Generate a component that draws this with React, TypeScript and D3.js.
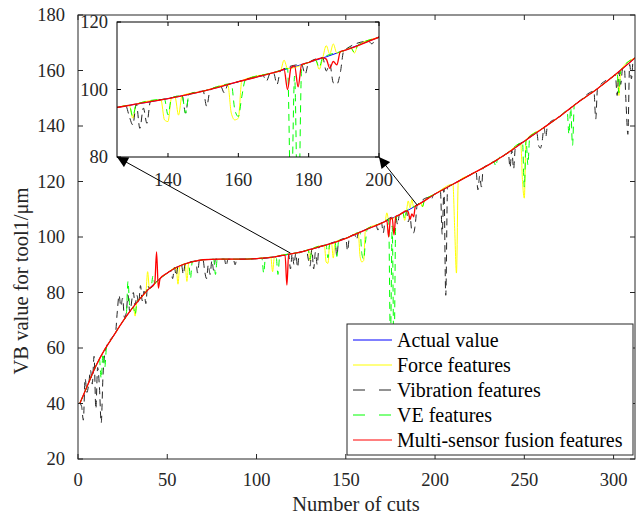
import React from "react";
import * as d3 from "d3";

type Pt = [number, number];

const width = 636;
const height = 517;
const font = "'Liberation Serif', 'Times New Roman', serif";

// measured tool wear (cut number, VB in um)
const actualCuts = [1, 5, 10, 15, 20, 25, 30, 35, 40, 45, 50, 55, 60, 65, 70, 80, 90, 100, 110, 120, 125, 130, 140, 150, 160, 170, 180, 190, 200, 210, 220, 230, 240, 250, 260, 270, 280, 290, 300, 312];
const actualVB = [40, 46, 53.5, 59.5, 64.5, 69.5, 74, 78, 81.5, 84.5, 87, 89, 90.3, 91.2, 91.8, 92, 92, 92.2, 92.8, 94, 94.6, 95.5, 97.3, 99.5, 102.3, 105, 108, 111.5, 115.5, 119, 122.5, 126, 130, 134.5, 139, 143.5, 148.5, 153, 158, 164.5];

// predictions where they leave the measured curve
const forceDev: Pt[][] = [
  [[31, 74.8], [32, 71.5], [33, 76.4]],
  [[38, 80.1], [39, 87.5], [40, 81.5]],
  [[55, 89], [56, 83], [57, 89.5]],
  [[60, 90.3], [61, 84], [62, 90.6]],
  [[108, 92.7], [109, 87.5], [110, 92.8]],
  [[129, 95.3], [130, 91.5], [131, 95.7]],
  [[138, 96.9], [139, 91], [140, 90.5], [141, 97.5]],
  [[142, 97.7], [143, 92.4], [144, 98.2]],
  [[157, 101.4], [158, 93], [159, 91], [160, 91.5], [161, 102.6]],
  [[172, 105.6], [173, 108.7], [174, 106.2]],
  [[182, 108.7], [183, 106], [184, 109.4], [185, 113], [186, 110.5], [187, 113.5], [188, 110.8]],
  [[192, 112.3], [193, 110.8], [194, 113.1]],
  [[210, 119], [211, 103], [212, 87], [213, 120]],
  [[248, 133.6], [249, 120], [250, 114], [251, 135]],
  [[302, 159], [303, 151], [304, 160]],
];

const vibrationDev: Pt[][] = [
  [[1, 40], [2, 39], [3, 34], [4, 49], [5, 44], [6, 47], [7, 52], [8, 47], [9, 57], [10, 38], [11, 53], [12, 46], [13, 33], [14, 50], [15, 58], [16, 60.5]],
  [[21, 65.5], [22, 73], [23, 79], [24, 75], [25, 78], [26, 71], [27, 72.5], [28, 79], [29, 73], [31, 80], [32, 75.5], [33, 79], [34, 76], [35, 82.5], [36, 77], [37, 80.5], [38, 76], [39, 82.5], [40, 81.5]],
  [[52, 87.8], [53, 85], [54, 89], [55, 86], [56, 89.3], [58, 89.8], [59, 86.5], [60, 90.3], [66, 91.3], [67, 87], [68, 91.5], [70, 91.8], [71, 87.5], [72, 85], [73, 90], [74, 86.5], [75, 91.5], [76, 88], [77, 92], [78, 92]],
  [[82, 92], [83, 89.5], [84, 92]],
  [[87, 92], [88, 90], [89, 92]],
  [[118, 93.8], [119, 88.5], [120, 94], [121, 90], [122, 94.2], [123, 89], [124, 94.5]],
  [[128, 95.1], [129, 92], [130, 89.5], [131, 95.7], [132, 88.5], [133, 94.5], [134, 90], [135, 96.4]],
  [[144, 98.2], [145, 93], [146, 98.6]],
  [[150, 99.5], [151, 95], [152, 99.9]],
  [[155, 100.9], [156, 99], [157, 101.4]],
  [[167, 104.1], [168, 102.5], [169, 104.7]],
  [[170, 105], [171, 101.5], [172, 105.6]],
  [[178, 107.4], [179, 104.5], [180, 108]],
  [[184, 109.4], [185, 105.5], [186, 107.5], [187, 102], [188, 101.5], [189, 105], [190, 111.5]],
  [[197, 114.3], [198, 113.5], [199, 115.1]],
  [[203, 116.5], [204, 101], [205, 117.3], [206, 79], [207, 117.9]],
  [[223, 123.5], [224, 117], [225, 122], [226, 118], [227, 125]],
  [[241, 130.5], [242, 125], [243, 131.3], [244, 124.5], [245, 132.3]],
  [[257, 137.6], [258, 133], [259, 132], [260, 134.5], [261, 139.5], [262, 136], [263, 140.3]],
  [[289, 152.5], [290, 142.5], [291, 153.5]],
  [[301, 158.5], [302, 151], [303, 159.5], [304, 155], [305, 160.5]],
  [[306, 161], [307, 148], [308, 137], [309, 162.2], [310, 157], [311, 163.9]],
];

const veDev: Pt[][] = [
  [[12, 56], [13, 49], [14, 58], [15, 53], [16, 60.5], [17, 61.5]],
  [[27, 71.5], [28, 84], [29, 75], [30, 74]],
  [[31, 74.8], [32, 72], [33, 76.4]],
  [[41, 82.1], [42, 86], [43, 83.3]],
  [[62, 90.6], [63, 85], [64, 91]],
  [[76, 92], [77, 86.5], [78, 92]],
  [[103, 92.4], [104, 87], [105, 92.5]],
  [[111, 92.9], [112, 86.5], [113, 93.2]],
  [[129, 95.3], [130, 92], [131, 95.7]],
  [[139, 97.1], [140, 92.5], [141, 97.5]],
  [[144, 98.2], [145, 93], [146, 98.6]],
  [[158, 101.7], [159, 94], [160, 92], [161, 98], [162, 102.8]],
  [[174, 106.2], [175, 62], [176, 104], [177, 55], [178, 106], [179, 107.7]],
  [[182, 108.7], [183, 106.5], [184, 109.4]],
  [[192, 112.3], [193, 111], [194, 113.1]],
  [[233, 127.2], [234, 125.5], [235, 128]],
  [[249, 134], [250, 118], [251, 135], [252, 126], [253, 135.8]],
  [[274, 145.5], [275, 137], [276, 146.5], [277, 133], [278, 147.5]],
  [[302, 159], [303, 152], [304, 160]],
];

const fusionDev: Pt[][] = [
  [[43, 83.3], [44, 94.6], [45, 81.6], [46, 85]],
  [[116, 93.5], [117, 82.7], [118, 93.8]],
  [[172, 105.6], [173, 106], [174, 100], [175, 106.5], [176, 107], [177, 100.8], [178, 107.4]],
  [[184, 109.4], [185, 109], [186, 106.3], [187, 108.3], [188, 107.3], [189, 111.2]],
];

const legendLabels = ["Actual value", "Force features", "Vibration features", "VE features", "Multi-sensor fusion features"];
const xTicks = [0, 50, 100, 150, 200, 250, 300];
const yTicks = [20, 40, 60, 80, 100, 120, 140, 160, 180];
const insetXTicks = [140, 160, 180, 200];
const insetYTicks = [80, 100, 120];
// zoom arrows: main-curve point -> inset corner
const arrowFrom: Pt[] = [[119, 94.2], [190, 111.5]];

const actualPts: Pt[] = actualCuts.map((c, i) => [c, actualVB[i]]);

function withDev(dev: Pt[][]): Pt[] {
  const pts = actualPts.filter(([c]) => !dev.some((seg) => c >= seg[0][0] && c <= seg[seg.length - 1][0]));
  dev.forEach((seg) => pts.push(...seg));
  return pts.sort((a, b) => a[0] - b[0]);
}

const series = [
  { pts: actualPts, color: "#0000ff", dash: "", w: 1 },
  { pts: withDev(forceDev), color: "#ffff00", dash: "", w: 1 },
  { pts: withDev(vibrationDev), color: "#262626", dash: "7 5", w: 1 },
  { pts: withDev(veDev), color: "#00ff00", dash: "7 5", w: 1 },
  { pts: withDev(fusionDev), color: "#ff0000", dash: "", w: 1.3 },
];

export default function App() {
  const x = d3.scaleLinear().domain([0, 312]).range([78, 635]);
  const y = d3.scaleLinear().domain([20, 180]).range([459, 15]);
  const ix = d3.scaleLinear().domain([125.5, 200]).range([117, 379]);
  const iy = d3.scaleLinear().domain([80, 120]).range([157, 22]);

  const line = d3.line<Pt>().x((d) => x(d[0])).y((d) => y(d[1])).curve(d3.curveMonotoneX);
  const insetLine = d3.line<Pt>().x((d) => ix(d[0])).y((d) => iy(d[1])).curve(d3.curveMonotoneX);

  const [x0, x1] = x.range();
  const [y0, y1] = y.range();
  const [ix0, ix1] = ix.range();
  const [iy0, iy1] = iy.range();
  const corners: Pt[] = [[ix0, iy0], [ix1, iy0]];

  return (
    <svg width={width} height={height} style={{ position: "absolute", left: 0, top: 0, background: "#fff" }} fontFamily={font}>
      <defs>
        <clipPath id="main-clip">
          <rect x={x0} y={y1} width={x1 - x0} height={y0 - y1} />
        </clipPath>
        <clipPath id="inset-clip">
          <rect x={ix0} y={iy1} width={ix1 - ix0} height={iy0 - iy1} />
        </clipPath>
        <marker id="arrow" viewBox="0 0 10 10" refX="10" refY="5" markerWidth="13" markerHeight="11" markerUnits="userSpaceOnUse" orient="auto">
          <path d="M0,0 L10,5 L0,10 z" fill="#000" />
        </marker>
      </defs>

      {/* main lines */}
      <g clipPath="url(#main-clip)" fill="none">
        {series.map((s, i) => (
          <path key={i} d={line(s.pts) || ""} stroke={s.color} strokeWidth={s.w} strokeDasharray={s.dash} />
        ))}
      </g>

      {/* main axes box */}
      <g stroke="#262626" strokeWidth={1}>
        <rect x={x0} y={y1} width={x1 - x0} height={y0 - y1} fill="none" />
        {xTicks.map((t) => (
          <g key={t}>
            <line x1={x(t)} x2={x(t)} y1={y0} y2={y0 - 5} />
            <line x1={x(t)} x2={x(t)} y1={y1} y2={y1 + 5} />
          </g>
        ))}
        {yTicks.map((t) => (
          <g key={t}>
            <line x1={x0} x2={x0 + 5} y1={y(t)} y2={y(t)} />
            <line x1={x1} x2={x1 - 5} y1={y(t)} y2={y(t)} />
          </g>
        ))}
      </g>
      <g fontSize={18.5} fill="#262626">
        {xTicks.map((t) => (
          <text key={t} x={x(t)} y={486} textAnchor="middle">{t}</text>
        ))}
        {yTicks.map((t) => (
          <text key={t} x={65} y={y(t)} textAnchor="end" dominantBaseline="central">{t}</text>
        ))}
      </g>
      <text x={(x0 + x1) / 2 - 0.5} y={511} textAnchor="middle" fontSize={20.5} fill="#262626">Number of cuts</text>
      <text transform={`translate(28,281) rotate(-90)`} textAnchor="middle" fontSize={20.5} fill="#262626">VB value for tool1/μm</text>

      {/* inset */}
      <rect x={ix0} y={iy1} width={ix1 - ix0} height={iy0 - iy1} fill="#fff" />
      <g clipPath="url(#inset-clip)" fill="none">
        {series.map((s, i) => (
          <path key={i} d={insetLine(s.pts) || ""} stroke={s.color} strokeWidth={s.w} strokeDasharray={s.dash} />
        ))}
      </g>
      <g stroke="#000" strokeWidth={1}>
        <rect x={ix0} y={iy1} width={ix1 - ix0} height={iy0 - iy1} fill="none" />
        {insetXTicks.map((t) => (
          <g key={t}>
            <line x1={ix(t)} x2={ix(t)} y1={iy0} y2={iy0 - 4} />
            <line x1={ix(t)} x2={ix(t)} y1={iy1} y2={iy1 + 4} />
          </g>
        ))}
        {insetYTicks.map((t) => (
          <g key={t}>
            <line x1={ix0} x2={ix0 + 4} y1={iy(t)} y2={iy(t)} />
            <line x1={ix1} x2={ix1 - 4} y1={iy(t)} y2={iy(t)} />
          </g>
        ))}
      </g>
      <g fontSize={18.5} fill="#262626">
        {insetXTicks.map((t) => (
          <text key={t} x={ix(t)} y={186} textAnchor="middle">{t}</text>
        ))}
        {insetYTicks.map((t) => (
          <text key={t} x={108} y={iy(t)} textAnchor="end" dominantBaseline="central">{t}</text>
        ))}
      </g>

      {/* zoom arrows */}
      {arrowFrom.map((p, i) => (
        <line key={i} x1={x(p[0])} y1={y(p[1])} x2={corners[i][0]} y2={corners[i][1]} stroke="#000" strokeWidth={1} markerEnd="url(#arrow)" />
      ))}

      {/* legend */}
      <g>
        <rect x={347} y={324} width={286} height={131} fill="#fff" stroke="#262626" strokeWidth={1} />
        {legendLabels.map((label, i) => (
          <g key={label} transform={`translate(0,${340 + i * 25})`}>
            <line x1={353} x2={392} y1={0} y2={0} stroke={series[i].color} strokeWidth={1} strokeDasharray={series[i].dash ? "12 14" : ""} />
            <text x={397} y={0} dominantBaseline="central" fontSize={20} fill="#000">{label}</text>
          </g>
        ))}
      </g>
    </svg>
  );
}
